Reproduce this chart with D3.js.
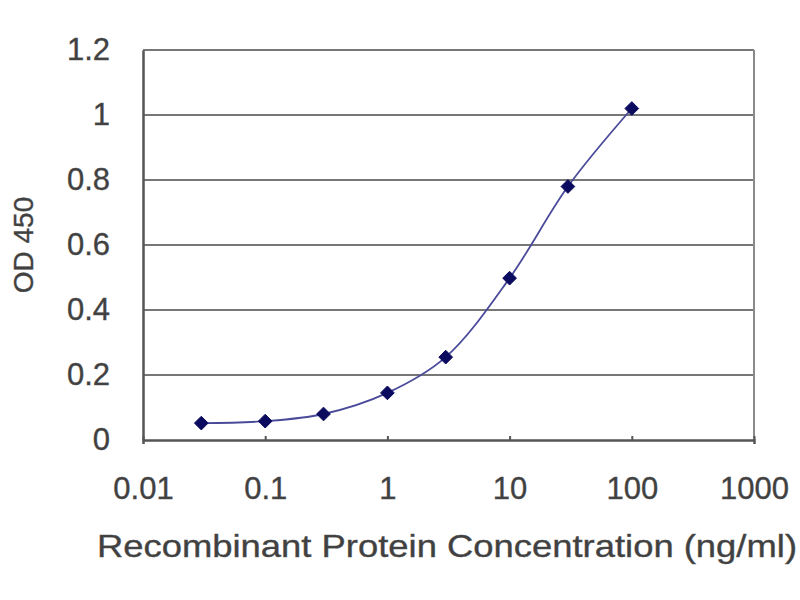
<!DOCTYPE html>
<html>
<head>
<meta charset="utf-8">
<script src="https://d3js.org/d3.v7.min.js"></script>
<style>
  body { margin: 0; background: #fff; }
  text { font-family: "Liberation Sans", Arial, sans-serif; fill: #404040; stroke: #505050; stroke-width: 0.4px; }
</style>
</head>
<body>
<div id="chart"></div>
<script>
  // concentrations (ng/ml) and OD 450 readings
  const concentrations = [0.03, 0.1, 0.3, 1, 3, 10, 30, 100];
  const odValues = [0.052, 0.058, 0.08, 0.145, 0.255, 0.498, 0.78, 1.02];
  const xTicks = [0.01, 0.1, 1, 10, 100, 1000];
  const yTicks = [0, 0.2, 0.4, 0.6, 0.8, 1, 1.2];

  const width = 800, height = 600;
  const margin = { top: 50, right: 46, bottom: 160, left: 143 };
  const w = width - margin.left - margin.right;
  const h = height - margin.top - margin.bottom;

  const svg = d3.select("#chart")
    .append("svg")
      .attr("width", width)
      .attr("height", height);

  const g = svg.append("g")
    .attr("transform", `translate(${margin.left}, ${margin.top})`);

  const x = d3.scaleLog()
    .domain([0.01, 1000])
    .range([0, w]);

  const y = d3.scaleLinear()
    .domain([0, 1.2])
    .range([h, 0]);

  // horizontal gridlines
  g.append("g")
    .selectAll("line")
    .data(yTicks.slice(1))
    .join("line")
      .attr("x1", 0)
      .attr("x2", w)
      .attr("y1", d => y(d))
      .attr("y2", d => y(d))
      .style("stroke", "#777")
      .style("stroke-width", 2.2);

  // right border
  g.append("line")
    .attr("x1", w).attr("x2", w)
    .attr("y1", 0).attr("y2", h)
    .style("stroke", "#8a8a8a")
    .style("stroke-width", 2);

  // x axis
  const xAxis = g.append("g")
    .attr("transform", `translate(0, ${h})`)
    .call(d3.axisBottom(x).tickValues(xTicks).tickFormat(d3.format("~g")).tickSize(4).tickPadding(33));
  xAxis.select(".domain").style("stroke", "#555").style("stroke-width", 2.5);
  xAxis.selectAll(".tick line").style("stroke", "#555").style("stroke-width", 2).attr("y1", -4).attr("y2", 0);
  xAxis.selectAll("text").style("font-size", "31px").style("fill", "#404040");

  // y axis
  const yAxis = g.append("g")
    .call(d3.axisLeft(y).tickValues(yTicks).tickFormat(d3.format("~g")).tickSize(0).tickPadding(33));
  yAxis.select(".domain").style("stroke", "#555").style("stroke-width", 2.5);
  yAxis.selectAll("text").style("font-size", "31px").style("fill", "#404040");

  // smoothed curve
  const pts = concentrations.map((c, i) => [c, odValues[i]]);
  g.append("path")
    .datum(pts)
    .attr("d", d3.line()
      .x(d => x(d[0]))
      .y(d => y(d[1]))
      .curve(d3.curveCatmullRom.alpha(0.5)))
    .style("fill", "none")
    .style("stroke", "#4a4a9a")
    .style("stroke-width", 1.8);

  // diamond markers
  g.selectAll(".pt")
    .data(pts)
    .join("path")
      .attr("class", "pt")
      .attr("transform", d => `translate(${x(d[0])}, ${y(d[1])})`)
      .attr("d", d3.symbol().type(d3.symbolDiamond2).size(120))
      .style("fill", "#0a0a5e")
      .style("stroke", "#0a0a5e")
      .style("stroke-width", 1);

  // axis titles
  svg.append("text")
    .attr("x", 97)
    .attr("y", 557)
    .attr("textLength", 700)
    .attr("lengthAdjust", "spacingAndGlyphs")
    .style("font-size", "32px")
    .text("Recombinant Protein Concentration (ng/ml)");

  svg.append("text")
    .attr("transform", "translate(33, 245) rotate(-90)")
    .attr("text-anchor", "middle")
    .style("font-size", "28px")
    .text("OD 450");
</script>
</body>
</html>
